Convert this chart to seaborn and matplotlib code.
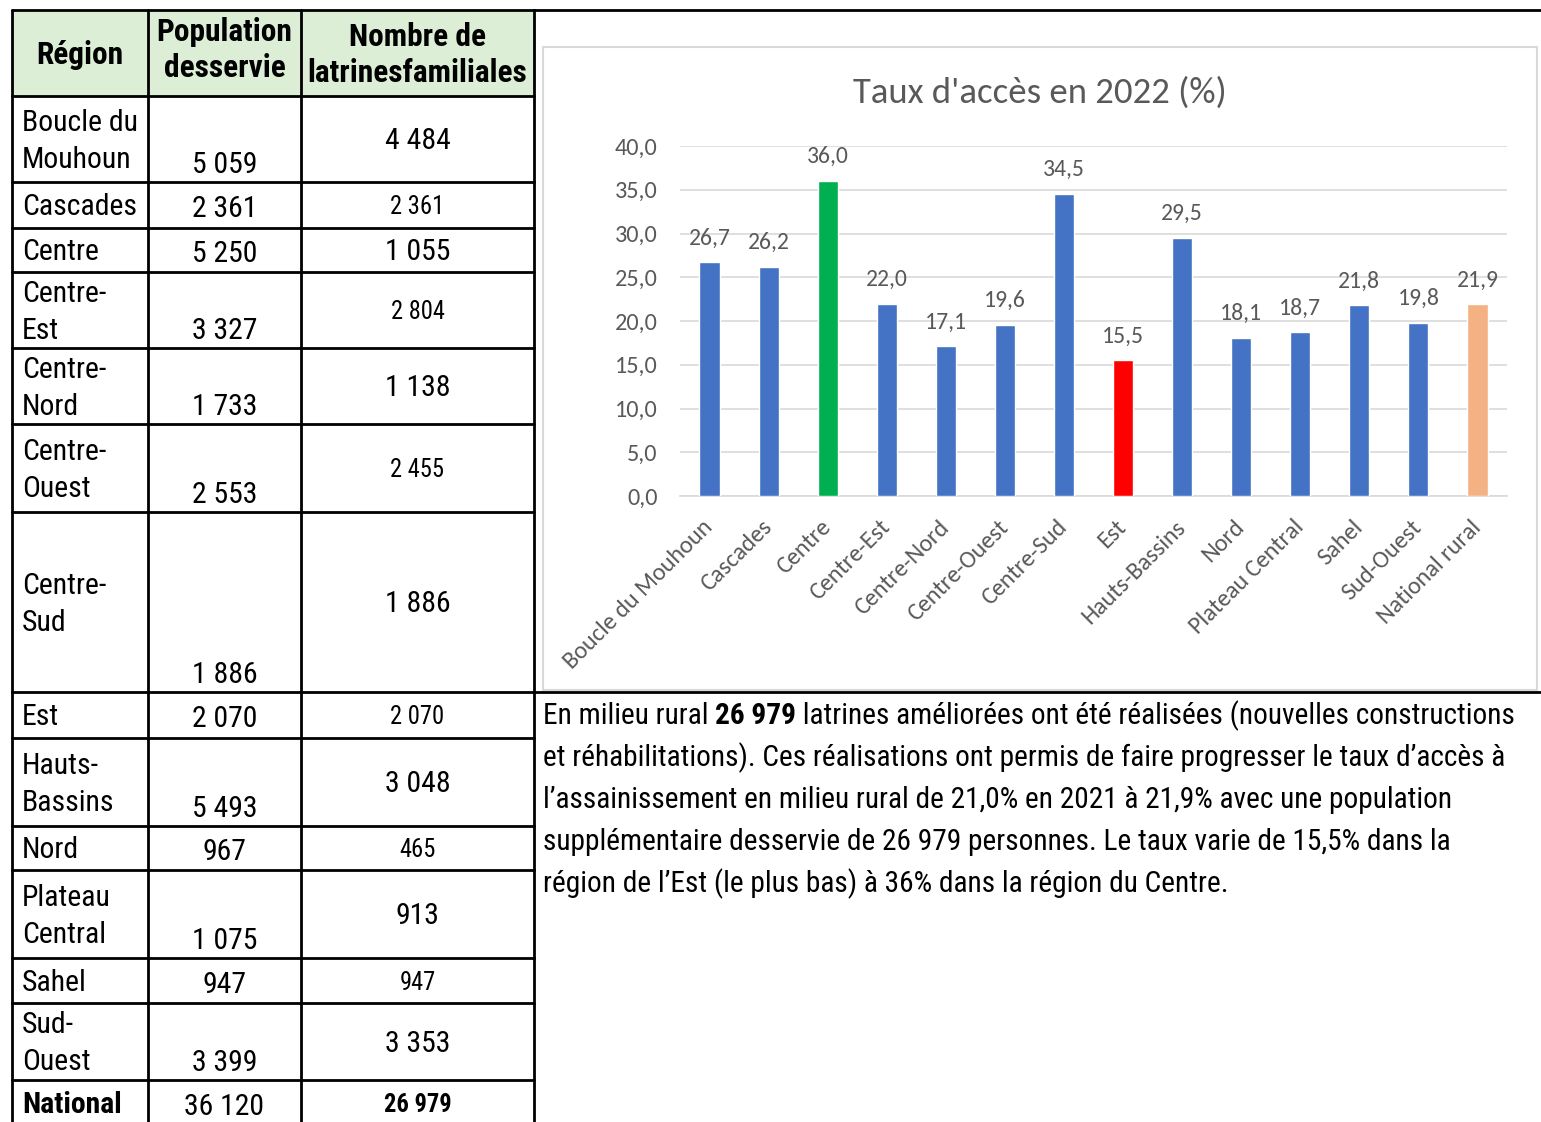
import numpy as np
import pandas as pd
import matplotlib.pyplot as plt
import seaborn as sns
from matplotlib.patches import Rectangle
from matplotlib import font_manager as fm

# ---- chart data ----
regions = ['Boucle du Mouhoun', 'Cascades', 'Centre', 'Centre-Est', 'Centre-Nord', 'Centre-Ouest',
           'Centre-Sud', 'Est', 'Hauts-Bassins', 'Nord', 'Plateau Central', 'Sahel', 'Sud-Ouest',
           'National rural']
taux_acces = [26.7, 26.2, 36.0, 22.0, 17.1, 19.6, 34.5, 15.5, 29.5, 18.1, 18.7, 21.8, 19.8, 21.9]
bar_colors = ['#4472C4', '#4472C4', '#00B050', '#4472C4', '#4472C4', '#4472C4', '#4472C4',
              '#FF0000', '#4472C4', '#4472C4', '#4472C4', '#4472C4', '#4472C4', '#F4B183']

# ---- table data ----
header = ['Région', 'Population\ndesservie', 'Nombre de\nlatrinesfamiliales']
table_regions = ['Boucle du\nMouhoun', 'Cascades', 'Centre', 'Centre-\nEst', 'Centre-\nNord',
                 'Centre-\nOuest', 'Centre-\nSud', 'Est', 'Hauts-\nBassins', 'Nord', 'Plateau\nCentral',
                 'Sahel', 'Sud-\nOuest', 'National']
population = ['5 059', '2 361', '5 250', '3 327', '1 733', '2 553', '1 886', '2 070', '5 493',
              '967', '1 075', '947', '3 399', '36 120']
latrines = ['4 484', '2 361', '1 055', '2 804', '1 138', '2 455', '1 886', '2 070', '3 048',
            '465', '913', '947', '3 353', '26 979']
# which latrine cells use the smaller type in the source document
latrines_small = [False, True, False, True, False, True, False, True, False, True, False, True, False, True]

paragraph = [
    [("En milieu rural ", 'normal'), ("26 979", 'bold'),
     (" latrines améliorées ont été réalisées (nouvelles constructions", 'normal')],
    [("et réhabilitations). Ces réalisations ont permis de faire progresser le taux d\u2019accès à", 'normal')],
    [("l\u2019assainissement en milieu rural de 21,0% en 2021 à 21,9% avec une population", 'normal')],
    [("supplémentaire desservie de 26 979 personnes. Le taux varie de 15,5% dans la", 'normal')],
    [("région de l\u2019Est (le plus bas) à 36% dans la région du Centre.", 'normal')],
]

W, H = 1541, 1122
GREY = '#595959'

available = {f.name for f in fm.fontManager.ttflist}
narrow_name = next((n for n in ['Liberation Sans Narrow', 'Arial Narrow', 'Roboto Condensed',
                                'Archivo Narrow', 'Barlow Semi Condensed'] if n in available), 'DejaVu Sans')
NARROW = [narrow_name, 'DejaVu Sans']
CHART_FONT = ['Carlito', 'Lato', 'DejaVu Sans']

sns.set_theme(style='white')
plt.rcParams['font.family'] = CHART_FONT

fig = plt.figure(figsize=(W / 100, H / 100), dpi=100)
renderer = fig.canvas.get_renderer()


def fit_size(text, target_px, weight='normal'):
    # font size that gives the narrow text the width seen in the reference
    t = fig.text(0, 0, text, fontsize=20, family=NARROW, fontweight=weight)
    w = t.get_window_extent(renderer=renderer).width
    t.remove()
    return 20 * target_px / w


fs_body = fit_size('Cascades', 115)
fs_small = fit_size('2 361', 54)
fs_head = fit_size('Région', 87, 'bold')
fs_par = fit_size(paragraph[1][0][0], 960)

# background layer in pixel coordinates for the table and text
bg = fig.add_axes([0, 0, 1, 1])
bg.set_xlim(0, W)
bg.set_ylim(H, 0)
bg.axis('off')

col_x = [12, 148, 301, 534]
row_y = [10, 96, 182, 228, 272, 348, 424, 512, 692, 738, 826, 870, 958, 1003, 1080, 1130]
gap = 37

bg.add_patch(Rectangle((col_x[0], row_y[0]), col_x[3] - col_x[0], row_y[1] - row_y[0],
                       facecolor='#DDEED6', edgecolor='none'))
for y in row_y[:-1]:
    bg.plot([col_x[0], col_x[3]], [y, y], color='black', lw=2)
bg.plot([col_x[3], W], [row_y[0], row_y[0]], color='black', lw=2)
bg.plot([col_x[3], W], [692, 692], color='black', lw=2)
for x in col_x:
    bg.plot([x, x], [row_y[0], H], color='black', lw=2)


def lines_at(x, cy, txt, ha, size, weight='normal', step=gap):
    parts = txt.split('\n')
    start = cy - step * (len(parts) - 1) / 2
    for k, p in enumerate(parts):
        bg.text(x, start + k * step, p, ha=ha, va='center', fontsize=size, family=NARROW,
                fontweight=weight, color='black')


# header
hy = (row_y[0] + row_y[1]) / 2
head_shift = [2, -3, 1.5]
for k, txt in enumerate(header):
    cx = (col_x[k] + col_x[k + 1]) / 2
    lines_at(cx, hy + head_shift[k], txt, 'center', fs_head, 'bold', step=36)

# body
for i in range(len(table_regions)):
    top, bot = row_y[i + 1], row_y[i + 2]
    if i == len(table_regions) - 1:
        bot = 1126
    cy = (top + bot) / 2 + 2
    last = i == len(table_regions) - 1
    lines_at(col_x[0] + 10, cy, table_regions[i], 'left', fs_body, 'bold' if last else 'normal')
    py = bot - 17 if '\n' in table_regions[i] else cy + 2
    lines_at((col_x[1] + col_x[2]) / 2, py, population[i], 'center', fs_body)
    lines_at((col_x[2] + col_x[3]) / 2, cy, latrines[i], 'center',
             fs_small if latrines_small[i] else fs_body, 'bold' if last else 'normal')

# paragraph with inline bold
for j, line in enumerate(paragraph):
    x = 543
    y = 716 + j * 42
    for txt, weight in line:
        t = bg.text(x, y, txt, ha='left', va='center', fontsize=fs_par, family=NARROW,
                    fontweight=weight, color='black')
        x += t.get_window_extent(renderer=renderer).width

# chart frame and title
bg.add_patch(Rectangle((543, 47), 1537 - 543, 690 - 47, facecolor='white',
                       edgecolor='#D9D9D9', lw=1.5, zorder=0))
bg.text(1040, 93, "Taux d'accès en 2022 (%)", ha='center', va='center', fontsize=26.5,
        color=GREY, family=CHART_FONT)

# bar chart
ax = fig.add_axes([680 / W, (H - 496) / H, (1507 - 680) / W, (496 - 146) / H])
ax.set_facecolor('none')
df = pd.DataFrame({'region': regions, 'taux': taux_acces})
sns.barplot(data=df, x='region', y='taux', hue='region', palette=bar_colors, legend=False,
            width=0.34, saturation=1, ax=ax, zorder=3)
ax.set_xlim(-0.5, len(regions) - 0.5)
ax.set_ylim(0, 40)
yt = np.arange(0, 41, 5)
ax.set_yticks(yt)
ax.set_yticklabels([f"{v:.1f}".replace('.', ',') for v in yt], color=GREY, fontsize=17.5)
ax.yaxis.grid(True, color='#D9D9D9', lw=1.2)
ax.set_axisbelow(True)
for s in ['top', 'right', 'left']:
    ax.spines[s].set_visible(False)
ax.spines['bottom'].set_color('#D9D9D9')
ax.spines['bottom'].set_linewidth(1.2)
ax.tick_params(axis='both', length=0)
ax.tick_params(axis='y', pad=16)
ax.tick_params(axis='x', pad=20)
ax.set_xlabel('')
ax.set_ylabel('')
for lab in ax.get_xticklabels():
    lab.set_rotation(45)
    lab.set_ha('right')
    lab.set_va('center')
    lab.set_rotation_mode('anchor')
    lab.set_color(GREY)
    lab.set_fontsize(17.5)
for i, v in enumerate(taux_acces):
    ax.annotate(f"{v:.1f}".replace('.', ','), (i, v), xytext=(0, 10), textcoords='offset points',
                ha='center', va='bottom', color=GREY, fontsize=17)

fig.savefig('out.png', dpi=100)
